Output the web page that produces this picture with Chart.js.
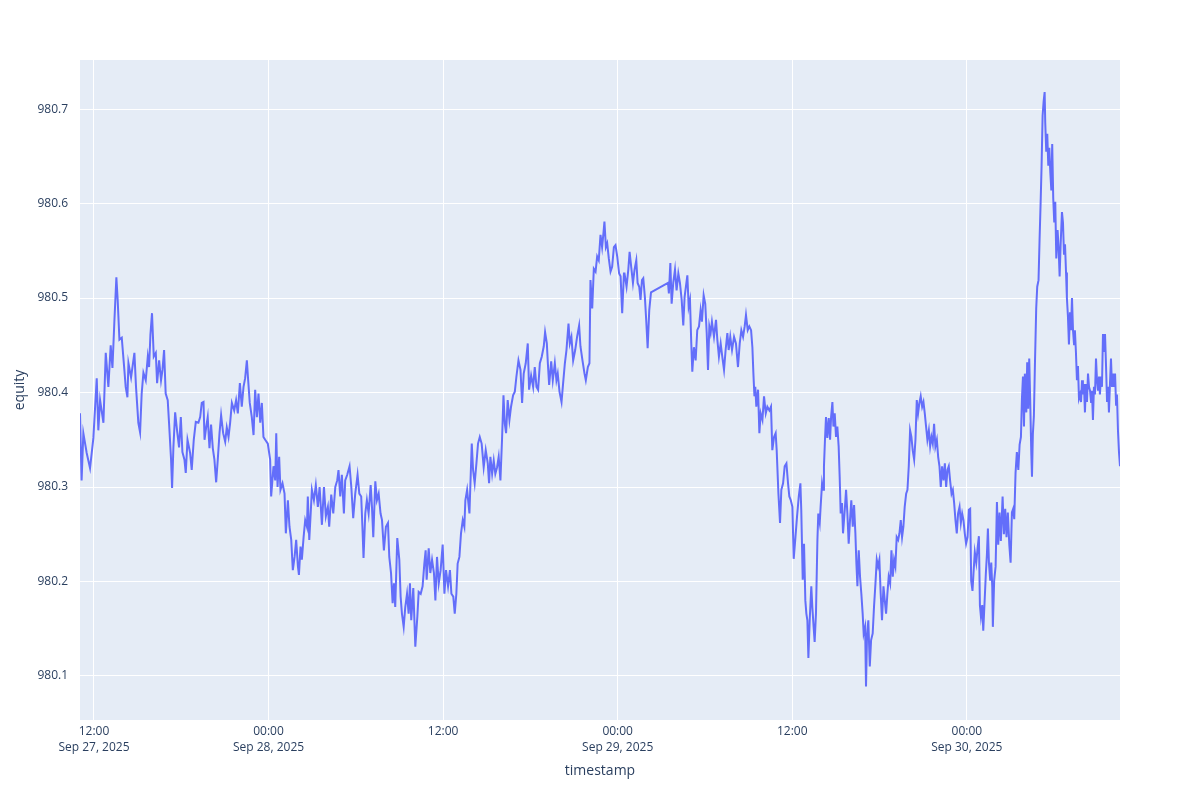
<!DOCTYPE html>
<html>
<head>
<meta charset="utf-8">
<title>equity</title>
<script src="https://cdn.jsdelivr.net/npm/chart.js@4.4.1/dist/chart.umd.min.js"></script>
<style>
    html, body { margin: 0; padding: 0; background: #ffffff; }
    #equityChart { display: block; }
</style>
</head>
<body>
<canvas id="equityChart" width="1200" height="800"></canvas>
<script>
// timestamps as hours since 2025-09-27 00:00
var hours = [
    11.04, 11.15, 11.27, 11.50, 11.73, 11.96, 12.19, 12.30, 12.42, 12.65, 12.81, 12.99, 13.15, 13.27, 13.40, 13.54,
    13.63, 13.75, 13.91, 14.09, 14.18, 14.30, 14.37, 14.55, 14.78, 14.89, 15.05, 15.17, 15.28, 15.40, 15.56, 15.70,
    15.79, 15.88, 15.99, 16.11, 16.25, 16.34, 16.48, 16.61, 16.71, 16.82, 16.93, 17.07, 17.16, 17.30, 17.37, 17.46,
    17.58, 17.71, 17.85, 17.97, 18.08, 18.22, 18.31, 18.43, 18.61, 18.72, 18.86, 19.00, 19.18, 19.30, 19.41, 19.53,
    19.60, 19.71, 19.82, 19.94, 20.05, 20.17, 20.28, 20.40, 20.51, 20.63, 20.74, 20.88, 21.02, 21.13, 21.25, 21.36,
    21.48, 21.64, 21.77, 21.89, 22.03, 22.16, 22.28, 22.39, 22.51, 22.60, 22.71, 22.85, 22.97, 23.08, 23.20, 23.31,
    23.43, 23.54, 23.65, 23.77,
    23.95, 24.11, 24.18, 24.34, 24.46, 24.53, 24.62, 24.73, 24.82, 24.96, 25.10, 25.19, 25.33, 25.44, 25.56, 25.67,
    25.79, 25.90, 26.02, 26.09, 26.20, 26.29, 26.41, 26.52, 26.64, 26.70, 26.80, 26.91, 26.98, 27.12, 27.25, 27.39,
    27.51, 27.67, 27.81, 27.94, 28.08, 28.17, 28.31, 28.45, 28.59, 28.72, 28.81, 28.93, 29.04, 29.18, 29.27, 29.41,
    29.57, 29.69, 29.82, 29.96, 30.12, 30.24, 30.37, 30.47, 30.53, 30.65, 30.76, 30.88, 31.02, 31.11, 31.20, 31.34,
    31.45, 31.57, 31.70, 31.80, 31.93, 32.07, 32.21, 32.30, 32.42, 32.53, 32.62, 32.71, 32.85, 32.99, 33.08, 33.17,
    33.29, 33.40, 33.52, 33.63, 33.72, 33.81, 33.95, 34.09, 34.23, 34.32, 34.46, 34.59, 34.71, 34.80, 34.87, 35.01,
    35.12, 35.24, 35.37, 35.47, 35.58, 35.70, 35.83, 35.97, 36.09, 36.20, 36.34, 36.47, 36.57, 36.70, 36.80,
    36.91, 37.00, 37.12, 37.23, 37.35, 37.46, 37.53, 37.65, 37.74, 37.81, 37.87, 37.97, 38.06, 38.17, 38.29, 38.40,
    38.52, 38.65, 38.79, 38.93, 39.07, 39.16, 39.25, 39.37, 39.48, 39.59, 39.71, 39.82, 39.94, 40.05, 40.15, 40.24,
    40.33, 40.44, 40.56, 40.67, 40.81, 40.93, 41.04, 41.18, 41.32, 41.43, 41.54, 41.68, 41.82, 41.91, 42.05, 42.19,
    42.30, 42.42, 42.53, 42.65, 42.78, 42.92, 43.01, 43.13, 43.20, 43.29, 43.43, 43.54, 43.68, 43.79, 43.88, 44.00,
    44.14, 44.25, 44.37, 44.48, 44.62, 44.71, 44.82, 44.94, 45.08, 45.21, 45.35, 45.44, 45.58, 45.72, 45.81, 45.95,
    46.06, 46.13, 46.25, 46.36, 46.48, 46.59, 46.70, 46.82, 46.93, 47.03, 47.09, 47.19, 47.28, 47.39, 47.51, 47.62,
    47.74, 47.85, 47.97, 48.10, 48.20, 48.31, 48.43,
    48.47, 48.61, 48.73, 48.82, 48.93, 49.05, 49.16, 49.28, 49.37, 49.48, 49.57, 49.67, 49.76, 49.87, 49.96, 50.06,
    50.17, 50.29, 51.46, 51.52, 51.62, 51.71, 51.82, 51.94, 52.05, 52.17, 52.28, 52.40, 52.51, 52.60, 52.69, 52.79,
    52.88, 52.97, 53.06, 53.13, 53.24, 53.36, 53.47, 53.59, 53.70, 53.79, 53.91, 54.02, 54.12, 54.21, 54.30, 54.39,
    54.48, 54.62, 54.76, 54.85, 54.96, 55.08, 55.19, 55.31, 55.42, 55.54, 55.63, 55.74, 55.86, 56.00, 56.13, 56.27,
    56.39, 56.50, 56.62, 56.73, 56.82, 56.94, 57.05, 57.17, 57.26, 57.33, 57.40, 57.46, 57.53, 57.65, 57.74, 57.83,
    57.95, 58.06, 58.18, 58.29, 58.43, 58.54, 58.63, 58.75, 58.86, 58.93, 59.05, 59.16, 59.25, 59.37, 59.48, 59.60,
    59.71, 59.80, 59.90, 60.01, 60.10, 60.22, 60.33, 60.45, 60.56,
    60.62, 60.72, 60.81, 60.90, 60.97, 61.04, 61.11, 61.20, 61.31, 61.38, 61.47, 61.54, 61.63, 61.73, 61.79, 61.89,
    61.95, 62.05, 62.12, 62.18, 62.25, 62.32, 62.41, 62.51, 62.60, 62.67, 62.76, 62.83, 62.92, 63.01, 63.10, 63.19,
    63.26, 63.33, 63.42, 63.49, 63.61, 63.70, 63.79, 63.88, 63.97, 64.06, 64.16, 64.25, 64.34, 64.41, 64.48, 64.57,
    64.66, 64.75, 64.84, 64.91, 65.01, 65.07, 65.14, 65.23, 65.33, 65.42, 65.53, 65.62, 65.72, 65.81, 65.90, 65.99,
    66.08, 66.17, 66.27, 66.36, 66.45, 66.54, 66.63, 66.73, 66.82, 66.91, 67.00, 67.09, 67.18, 67.28, 67.37, 67.46,
    67.55, 67.64, 67.73, 67.83, 67.92, 68.01, 68.10, 68.19, 68.28, 68.38, 68.47, 68.56, 68.65, 68.74, 68.83, 68.93,
    69.02, 69.11, 69.20, 69.29, 69.39, 69.48, 69.57, 69.66, 69.75, 69.84, 69.94, 70.03, 70.12, 70.21, 70.30, 70.40,
    70.49, 70.58, 70.67, 70.76, 70.85, 70.95, 71.04, 71.13, 71.22, 71.31, 71.40, 71.50, 71.59, 71.68, 71.77, 71.86,
    71.95, 72.05, 72.14,
    72.23, 72.30, 72.39, 72.46, 72.55, 72.65, 72.74, 72.83, 72.90, 72.97, 73.06, 73.13, 73.22, 73.31, 73.38, 73.45,
    73.52, 73.61, 73.68, 73.75, 73.79, 73.88, 73.98, 74.07, 74.16, 74.25, 74.34, 74.46, 74.55, 74.64, 74.73, 74.82,
    74.92, 75.01, 75.10, 75.19, 75.26, 75.35, 75.44, 75.54, 75.63, 75.72, 75.79, 75.86, 75.93, 75.99, 76.09, 76.15,
    76.22, 76.29, 76.36, 76.43, 76.48, 76.54, 76.61, 76.68, 76.77, 76.84, 76.93, 77.00, 77.07, 77.14, 77.21, 77.28,
    77.35, 77.39, 77.46, 77.53, 77.60, 77.67, 77.74, 77.81, 77.87, 77.94, 78.01, 78.08, 78.15, 78.24, 78.31, 78.38,
    78.45, 78.54, 78.61, 78.68, 78.75, 78.82, 78.88, 78.95, 79.02, 79.09, 79.16, 79.23, 79.30, 79.37, 79.43, 79.50,
    79.57, 79.64, 79.71, 79.78, 79.85, 79.92, 79.98, 80.05, 80.12, 80.19, 80.26, 80.33, 80.40, 80.47, 80.54, 80.60,
    80.67, 80.74, 80.81, 80.88, 80.95, 81.02, 81.09, 81.15, 81.22, 81.29, 81.36, 81.43, 81.50, 81.57, 81.64, 81.71,
    81.77, 81.84, 81.91, 81.98, 82.05, 82.12, 82.19, 82.26, 82.32, 82.39, 82.46, 82.53
];

var equity = [
    980.378, 980.307, 980.357, 980.336, 980.320, 980.352, 980.415, 980.360, 980.392, 980.368, 980.442, 980.406, 980.450, 980.426, 980.474, 980.522,
    980.498, 980.456, 980.458, 980.424, 980.406, 980.395, 980.431, 980.416, 980.442, 980.406, 980.368, 980.358, 980.399, 980.421, 980.413, 980.438,
    980.427, 980.461, 980.484, 980.438, 980.442, 980.410, 980.434, 980.413, 980.424, 980.445, 980.399, 980.392, 980.368, 980.329, 980.299, 980.342,
    980.379, 980.360, 980.342, 980.374, 980.337, 980.329, 980.315, 980.350, 980.336, 980.318, 980.350, 980.369, 980.368, 980.374, 980.389, 980.390,
    980.350, 980.363, 980.374, 980.341, 980.366, 980.341, 980.329, 980.305, 980.329, 980.357, 980.376, 980.357, 980.348, 980.363, 980.353, 980.368,
    980.389, 980.381, 980.392, 980.378, 980.410, 980.385, 980.406, 980.415, 980.434, 980.413, 980.389, 980.374, 980.355, 980.403, 980.374, 980.399,
    980.368, 980.389, 980.353, 980.350,
    980.346, 980.329, 980.290, 980.322, 980.307, 980.357, 980.300, 980.332, 980.297, 980.304, 980.293, 980.251, 980.286, 980.258, 980.244, 980.212,
    980.226, 980.244, 980.216, 980.207, 980.237, 980.223, 980.247, 980.265, 980.258, 980.290, 980.244, 980.276, 980.297, 980.286, 980.302, 980.279,
    980.300, 980.260, 980.300, 980.269, 980.279, 980.258, 980.292, 980.272, 980.300, 980.307, 980.318, 980.290, 980.313, 980.272, 980.307, 980.313,
    980.322, 980.300, 980.267, 980.293, 980.313, 980.293, 980.290, 980.251, 980.225, 980.272, 980.286, 980.272, 980.302, 980.279, 980.247, 980.306,
    980.286, 980.293, 980.272, 980.265, 980.233, 980.258, 980.262, 980.226, 980.209, 980.177, 980.198, 980.173, 980.246, 980.223, 980.184, 980.166,
    980.152, 980.173, 980.187, 980.166, 980.198, 980.159, 980.193, 980.131, 980.163, 980.189, 980.187, 980.195, 980.219, 980.233, 980.202, 980.235,
    980.209, 980.223, 980.209, 980.180, 980.226, 980.198, 980.212, 980.239, 980.187, 980.212, 980.195, 980.212, 980.187, 980.184, 980.166,
    980.187, 980.219, 980.226, 980.251, 980.265, 980.258, 980.286, 980.297, 980.283, 980.272, 980.300, 980.346, 980.318, 980.304, 980.325, 980.346,
    980.353, 980.346, 980.321, 980.339, 980.325, 980.304, 980.332, 980.314, 980.328, 980.314, 980.321, 980.332, 980.307, 980.350, 980.397, 980.367,
    980.357, 980.392, 980.371, 980.385, 980.397, 980.401, 980.417, 980.434, 980.424, 980.389, 980.420, 980.431, 980.452, 980.403, 980.418, 980.406,
    980.427, 980.406, 980.403, 980.431, 980.438, 980.449, 980.464, 980.452, 980.431, 980.408, 980.433, 980.413, 980.431, 980.413, 980.420, 980.401,
    980.390, 980.410, 980.431, 980.445, 980.473, 980.452, 980.459, 980.434, 980.445, 980.459, 980.471, 980.449, 980.434, 980.420, 980.413, 980.427,
    980.431, 980.519, 980.489, 980.531, 980.528, 980.544, 980.540, 980.567, 980.554, 980.570, 980.581, 980.554, 980.558, 980.542, 980.528, 980.533,
    980.554, 980.556, 980.544, 980.526, 980.523, 980.484, 980.526,
    980.526, 980.512, 980.530, 980.549, 980.533, 980.516, 980.530, 980.540, 980.516, 980.512, 980.498, 980.519, 980.521, 980.501, 980.477, 980.447,
    980.487, 980.506, 980.516, 980.505, 980.537, 980.494, 980.516, 980.530, 980.508, 980.526, 980.516, 980.498, 980.471, 980.501, 980.512, 980.524,
    980.491, 980.498, 980.452, 980.422, 980.448, 980.434, 980.466, 980.470, 980.487, 980.475, 980.503, 980.494, 980.463, 980.424, 980.470, 980.463,
    980.475, 980.459, 980.477, 980.456, 980.438, 980.452, 980.438, 980.424, 980.445, 980.463, 980.445, 980.459, 980.445, 980.459, 980.452, 980.427,
    980.452, 980.466, 980.459, 980.470, 980.482, 980.466, 980.470, 980.466, 980.448, 980.420, 980.396, 980.406, 980.385, 980.403, 980.357, 980.378,
    980.371, 980.396, 980.378, 980.385, 980.381, 980.385, 980.339, 980.353, 980.357, 980.339, 980.293, 980.262, 980.297, 980.304, 980.322, 980.325,
    980.304, 980.290, 980.286, 980.279, 980.224, 980.247, 980.269, 980.290, 980.304,
    980.276, 980.202, 980.240, 980.180, 980.166, 980.159, 980.119, 980.159, 980.195, 980.173, 980.152, 980.136, 980.166, 980.244, 980.272, 980.262,
    980.279, 980.304, 980.297, 980.322, 980.350, 980.374, 980.352, 980.373, 980.350, 980.374, 980.390, 980.364, 980.378, 980.353, 980.364, 980.343,
    980.311, 980.272, 980.283, 980.251, 980.276, 980.297, 980.272, 980.240, 980.265, 980.286, 980.258, 980.281, 980.251, 980.219, 980.195, 980.233,
    980.205, 980.187, 980.166, 980.145, 980.152, 980.089, 980.142, 980.159, 980.110, 980.138, 980.145, 980.173, 980.198, 980.223, 980.216, 980.223,
    980.187, 980.159, 980.195, 980.180, 980.166, 980.187, 980.205, 980.198, 980.233, 980.205, 980.223, 980.216, 980.247, 980.244, 980.251, 980.265,
    980.247, 980.258, 980.279, 980.293, 980.297, 980.322, 980.360, 980.353, 980.339, 980.329, 980.350, 980.392, 980.378, 980.389, 980.396, 980.385,
    980.390, 980.378, 980.364, 980.350, 980.360, 980.343, 980.353, 980.346, 980.367, 980.343, 980.350, 980.332, 980.322, 980.300, 980.322, 980.307,
    980.325, 980.300, 980.318, 980.322, 980.307, 980.293, 980.297, 980.283, 980.265, 980.251, 980.272, 980.279, 980.262, 980.272, 980.265, 980.251,
    980.240, 980.247, 980.276,
    980.277, 980.201, 980.190, 980.209, 980.231, 980.220, 980.235, 980.248, 980.175, 980.163, 980.175, 980.148, 980.178, 980.209, 980.228, 980.256,
    980.220, 980.201, 980.220, 980.194, 980.152, 980.201, 980.216, 980.284, 980.239, 980.273, 980.243, 980.290, 980.250, 980.277, 980.247, 980.273,
    980.239, 980.220, 980.273, 980.277, 980.266, 980.315, 980.337, 980.318, 980.345, 980.353, 980.394, 980.417, 980.364, 980.420, 980.379, 980.432,
    980.383, 980.436, 980.390, 980.337, 980.311, 980.356, 980.375, 980.428, 980.489, 980.512, 980.519, 980.561, 980.599, 980.640, 980.693, 980.708,
    980.718, 980.686, 980.655, 980.674, 980.640, 980.659, 980.633, 980.614, 980.663, 980.606, 980.580, 980.602, 980.542, 980.572, 980.553, 980.523,
    980.557, 980.591, 980.580, 980.546, 980.557, 980.527, 980.500, 980.481, 980.451, 980.485, 980.466, 980.500, 980.466, 980.451, 980.466, 980.443,
    980.413, 980.428, 980.394, 980.398, 980.390, 980.413, 980.398, 980.409, 980.379, 980.409, 980.390, 980.420, 980.406, 980.402, 980.390, 980.402,
    980.371, 980.406, 980.398, 980.436, 980.413, 980.402, 980.417, 980.398, 980.417, 980.406, 980.462, 980.443, 980.462, 980.428, 980.390, 980.406,
    980.379, 980.409, 980.436, 980.406, 980.420, 980.406, 980.420, 980.387, 980.398, 980.360, 980.337, 980.322
];

// axis ticks
var yTicks = [980.1, 980.2, 980.3, 980.4, 980.5, 980.6, 980.7];
var xTickHours = [12, 24, 36, 48, 60, 72];
var xTickLabels = [
    ['12:00', 'Sep 27, 2025'],
    ['00:00', 'Sep 28, 2025'],
    ['12:00'],
    ['00:00', 'Sep 29, 2025'],
    ['12:00'],
    ['00:00', 'Sep 30, 2025']
];

document.addEventListener('DOMContentLoaded', function () {
    var textColor = '#2a3f5f';
    var fontFamily = '"Open Sans", verdana, arial, sans-serif';

    var points = hours.map(function (h, i) {
        return { x: h, y: equity[i] };
    });

    // plotly-like plot background
    var plotBackground = {
        id: 'plotBackground',
        beforeDraw: function (chart) {
            var a = chart.chartArea;
            var c = chart.ctx;
            c.save();
            c.fillStyle = '#E5ECF6';
            c.fillRect(a.left, a.top, a.right - a.left, a.bottom - a.top);
            c.restore();
        }
    };

    var ctx = document.getElementById('equityChart').getContext('2d');
    var equityChart = new Chart(ctx, {
        type: 'line',
        data: {
            datasets: [{
                data: points,
                borderColor: '#636efa',
                borderWidth: 2,
                pointRadius: 0,
                fill: false,
                tension: 0
            }]
        },
        options: {
            responsive: false,
            animation: false,
            devicePixelRatio: 1,
            layout: { padding: { left: 0, right: 80, top: 60, bottom: 0 } },
            plugins: {
                legend: { display: false },
                tooltip: { enabled: false }
            },
            scales: {
                x: {
                    type: 'linear',
                    min: hours[0],
                    max: hours[hours.length - 1],
                    afterBuildTicks: function (axis) {
                        axis.ticks = xTickHours.map(function (v) { return { value: v }; });
                    },
                    afterFit: function (axis) { axis.height = 80; },
                    grid: { color: '#ffffff', lineWidth: 1, drawTicks: false },
                    border: { display: false },
                    ticks: {
                        autoSkip: false,
                        maxRotation: 0,
                        padding: 3,
                        color: textColor,
                        font: { family: fontFamily, size: 12, lineHeight: 1.35 },
                        callback: function (value) {
                            var i = xTickHours.indexOf(value);
                            return i >= 0 ? xTickLabels[i] : '';
                        }
                    },
                    title: {
                        display: true,
                        text: 'timestamp',
                        color: textColor,
                        font: { family: fontFamily, size: 14 },
                        padding: { top: 0, bottom: 21 }
                    }
                },
                y: {
                    min: 980.0534,
                    max: 980.752,
                    afterBuildTicks: function (axis) {
                        axis.ticks = yTicks.map(function (v) { return { value: v }; });
                    },
                    afterFit: function (axis) { axis.width = 80; },
                    grid: { color: '#ffffff', lineWidth: 1, drawTicks: false },
                    border: { display: false },
                    ticks: {
                        padding: 12,
                        color: textColor,
                        font: { family: fontFamily, size: 12 },
                        callback: function (value) { return value.toFixed(1); }
                    },
                    title: {
                        display: true,
                        text: 'equity',
                        color: textColor,
                        font: { family: fontFamily, size: 14 },
                        padding: { top: 12, bottom: 0 }
                    }
                }
            }
        },
        plugins: [plotBackground]
    });
});
</script>
</body>
</html>
